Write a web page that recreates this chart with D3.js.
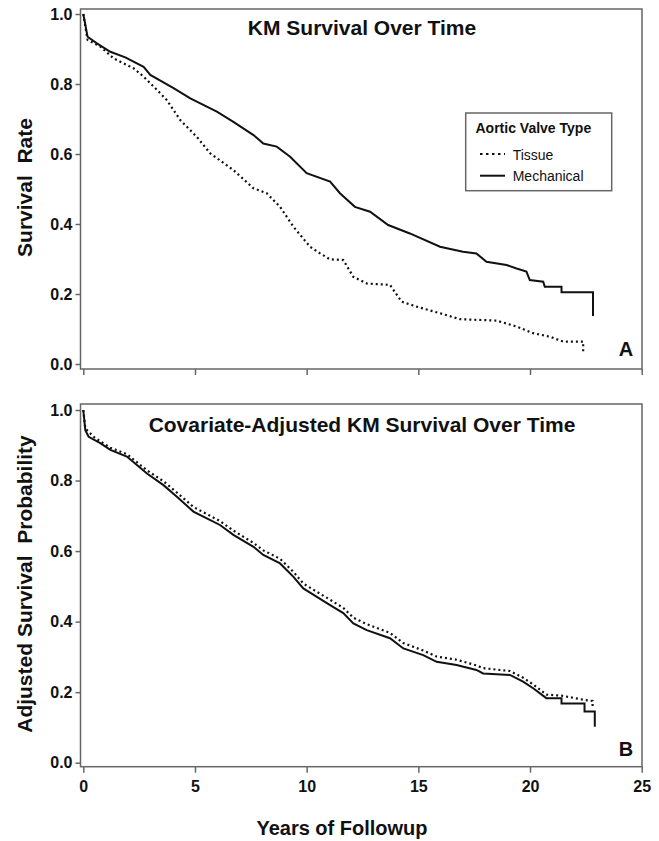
<!DOCTYPE html>
<html>
<head>
<meta charset="utf-8">
<script src="https://cdn.jsdelivr.net/npm/d3@7"></script>
<style>
  html, body { margin: 0; padding: 0; background: #fff; }
  svg { display: block; }
  text { font-family: "Liberation Sans", Arial, Helvetica, sans-serif; fill: #111; }
</style>
</head>
<body>
<svg id="chart" width="659" height="841"></svg>
<script>
// ---------- Data (years, survival) ----------
const topTitle = "KM Survival Over Time";
const bottomTitle = "Covariate-Adjusted KM Survival Over Time";
const xTicks = [0, 5, 10, 15, 20, 25];
const yTicks = [0.0, 0.2, 0.4, 0.6, 0.8, 1.0];
const legendTitle = "Aortic Valve Type";
const seriesNames = ["Tissue", "Mechanical"];

const topMechanical = [
  [0,1.0],[0.19,0.935],[0.61,0.916],[1.21,0.892],[1.88,0.876],[2.7,0.849],[3.0,0.826],
  [4.04,0.788],[4.79,0.759],[5.98,0.721],[6.72,0.692],[7.62,0.654],[8.06,0.63],[8.66,0.621],
  [9.26,0.592],[10.0,0.545],[11.05,0.521],[11.49,0.488],[12.16,0.449],[12.84,0.435],
  [13.65,0.397],[14.62,0.373],[15.97,0.335],[17.0,0.321],[17.6,0.316],[18.05,0.292],
  [18.95,0.283],[19.4,0.273],[19.84,0.264],[19.99,0.24],[20.59,0.235],[20.66,0.221],
  [21.41,0.221],[21.41,0.205],[22.82,0.205],[22.82,0.137]
];
const topTissue = [
  [0,1.0],[0.19,0.926],[0.76,0.907],[1.36,0.873],[2.25,0.845],[2.7,0.821],[3.3,0.783],
  [3.74,0.754],[4.34,0.697],[5.08,0.649],[5.68,0.602],[6.72,0.554],[7.62,0.502],[8.21,0.488],
  [8.81,0.449],[9.41,0.392],[10.15,0.335],[10.6,0.316],[11.05,0.299],[11.64,0.297],
  [12.09,0.249],[12.69,0.23],[13.73,0.226],[14.25,0.178],[14.92,0.164],[15.97,0.145],
  [16.86,0.128],[18.5,0.124],[19.4,0.107],[20.14,0.088],[20.89,0.078],[21.48,0.064],
  [22.38,0.064],[22.38,0.03]
];
const bottomMechanical = [
  [0,1.0],[0.09,0.943],[0.24,0.924],[0.76,0.906],[1.21,0.887],[1.95,0.868],[2.4,0.844],
  [2.85,0.82],[3.59,0.787],[4.19,0.754],[4.93,0.712],[5.53,0.693],[6.12,0.674],[6.72,0.646],
  [7.62,0.612],[8.06,0.589],[8.81,0.565],[9.41,0.527],[9.85,0.494],[10.44,0.471],[11.05,0.447],
  [11.64,0.424],[12.09,0.395],[12.69,0.376],[13.73,0.353],[14.33,0.324],[15.22,0.305],
  [15.82,0.286],[16.71,0.277],[17.6,0.263],[17.9,0.253],[19.1,0.249],[19.69,0.23],
  [20.14,0.211],[20.73,0.183],[21.41,0.183],[21.41,0.168],[22.44,0.168],[22.44,0.145],
  [22.9,0.145],[22.9,0.102]
];
const bottomTissue = [
  [0,1.0],[0.09,0.948],[0.5,0.922],[1.21,0.893],[1.95,0.875],[2.85,0.829],[3.59,0.798],
  [4.19,0.766],[4.93,0.725],[5.53,0.705],[6.12,0.685],[6.72,0.658],[7.62,0.623],[8.06,0.602],
  [8.81,0.578],[9.41,0.541],[9.85,0.508],[10.44,0.485],[11.05,0.462],[11.64,0.439],
  [12.09,0.411],[12.69,0.393],[13.73,0.368],[14.33,0.339],[15.22,0.318],[15.82,0.301],
  [16.71,0.292],[17.6,0.276],[17.9,0.268],[19.1,0.26],[19.69,0.241],[20.14,0.222],
  [20.73,0.193],[21.41,0.19],[22.44,0.178],[22.8,0.175],[22.8,0.152]
];

// ---------- Layout ----------
const svg = d3.select("#chart");
const frameColor = "#666";
const x = d3.scaleLinear().domain([0, 25]).range([83.3, 641.7]);

const panels = [
  { top: 9, bottom: 369, y0: 364, y1: 14, title: topTitle, titleY: 34.5,
    ytitle: "Survival  Rate", ytitleY: 187.5, letter: "A", letterY: 356,
    tissue: topTissue, mech: topMechanical, xLabels: false, legend: true },
  { top: 404, bottom: 766.7, y0: 762.7, y1: 410, title: bottomTitle, titleY: 431.5,
    ytitle: "Adjusted Survival  Probability", ytitleY: 584, letter: "B", letterY: 756,
    tissue: bottomTissue, mech: bottomMechanical, xLabels: true, legend: false }
];

const frameLeft = 80.5, frameRight = 642;

panels.forEach(p => {
  const y = d3.scaleLinear().domain([0, 1]).range([p.y0, p.y1]);
  const g = svg.append("g");

  // frame
  g.append("rect")
    .attr("x", frameLeft).attr("y", p.top)
    .attr("width", frameRight - frameLeft).attr("height", p.bottom - p.top)
    .attr("fill", "none").attr("stroke", frameColor).attr("stroke-width", 1.5);

  // y axis
  const ya = g.append("g").attr("transform", `translate(${frameLeft},0)`)
    .call(d3.axisLeft(y).tickValues(yTicks).tickFormat(d3.format(".1f")).tickSize(5).tickPadding(3));
  ya.select(".domain").remove();
  ya.selectAll(".tick line").attr("stroke", frameColor).attr("stroke-width", 1.5);
  ya.selectAll(".tick text").attr("font-size", 16).attr("font-weight", "bold")
    .attr("font-family", "Liberation Sans, Arial, sans-serif").attr("fill", "#111");

  // x axis
  const xa = g.append("g").attr("transform", `translate(0,${p.bottom})`)
    .call(d3.axisBottom(x).tickValues(xTicks).tickFormat(p.xLabels ? d3.format("d") : () => "")
      .tickSize(6).tickPadding(8));
  xa.select(".domain").remove();
  xa.selectAll(".tick line").attr("stroke", frameColor).attr("stroke-width", 1.5);
  xa.selectAll(".tick text").attr("font-size", 16).attr("font-weight", "bold")
    .attr("font-family", "Liberation Sans, Arial, sans-serif").attr("fill", "#111");

  // lines
  const line = d3.line().x(d => x(d[0])).y(d => y(d[1]));
  g.append("path").datum(p.tissue).attr("d", line)
    .attr("fill", "none").attr("stroke", "#111").attr("stroke-width", 2.2)
    .attr("stroke-dasharray", "2,3");
  g.append("path").datum(p.mech).attr("d", line)
    .attr("fill", "none").attr("stroke", "#111").attr("stroke-width", 2);

  // title
  g.append("text").attr("x", 362).attr("y", p.titleY).attr("text-anchor", "middle")
    .attr("font-size", 21).attr("font-weight", "bold").text(p.title);

  // y title
  g.append("text").attr("transform", `translate(32,${p.ytitleY}) rotate(-90)`)
    .attr("text-anchor", "middle").attr("font-size", 21).attr("font-weight", "bold")
    .style("white-space", "pre").text(p.ytitle);

  // panel letter
  g.append("text").attr("x", 626).attr("y", p.letterY).attr("text-anchor", "middle")
    .attr("font-size", 20).attr("font-weight", "bold").text(p.letter);

  if (p.legend) {
    const lg = g.append("g");
    lg.append("rect").attr("x", 465.7).attr("y", 113).attr("width", 146).attr("height", 77.7)
      .attr("fill", "#fff").attr("stroke", frameColor).attr("stroke-width", 1.5);
    lg.append("text").attr("x", 475.5).attr("y", 132.5).attr("font-size", 14)
      .attr("font-weight", "bold").text(legendTitle);
    lg.append("line").attr("x1", 480).attr("x2", 505).attr("y1", 154).attr("y2", 154)
      .attr("stroke", "#111").attr("stroke-width", 2.2).attr("stroke-dasharray", "2.5,3.5");
    lg.append("text").attr("x", 512.7).attr("y", 159.5).attr("font-size", 14).text(seriesNames[0]);
    lg.append("line").attr("x1", 480).attr("x2", 505).attr("y1", 175.7).attr("y2", 175.7)
      .attr("stroke", "#111").attr("stroke-width", 2);
    lg.append("text").attr("x", 512.7).attr("y", 181).attr("font-size", 14).text(seriesNames[1]);
  }
});

// x axis title
svg.append("text").attr("x", 342).attr("y", 835).attr("text-anchor", "middle")
  .attr("font-size", 20).attr("font-weight", "bold").text("Years of Followup");
</script>
</body>
</html>
